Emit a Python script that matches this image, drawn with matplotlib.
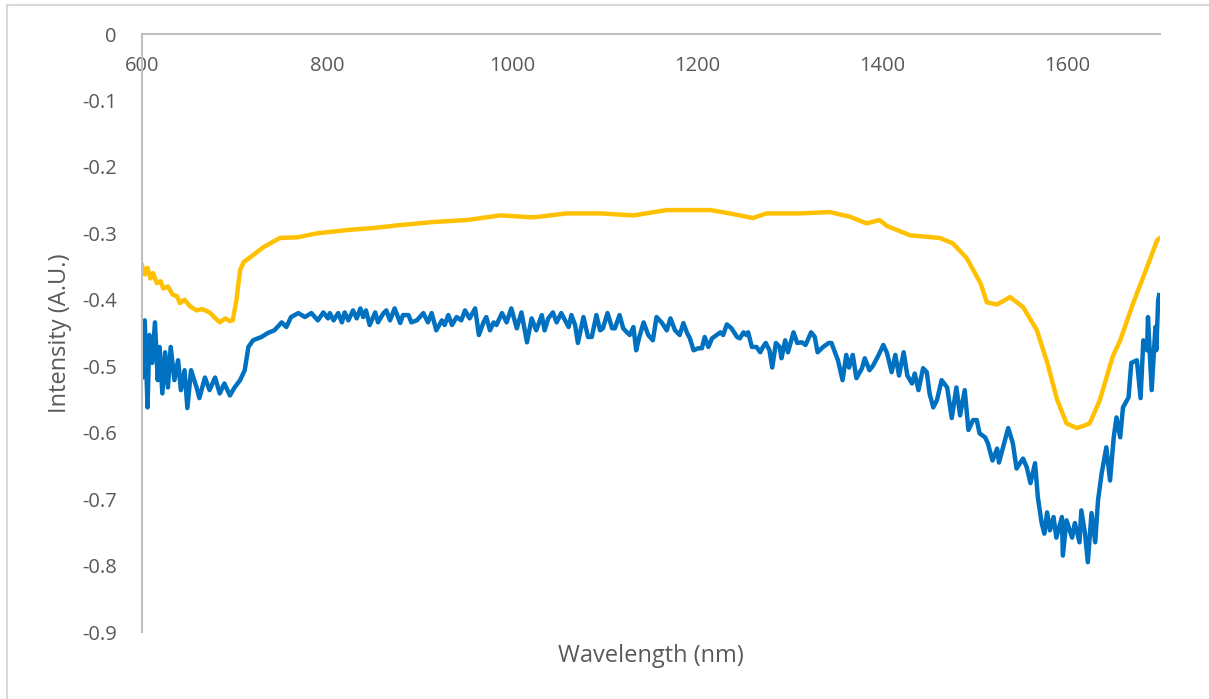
import matplotlib
matplotlib.use("Agg")
import matplotlib.pyplot as plt
from matplotlib.patches import Rectangle

plt.rcParams['font.family'] = ['Open Sans', 'DejaVu Sans']

# ---------------- data ----------------
yellow_wl = [600, 603, 606, 609, 612, 616, 620, 623, 628, 633, 638, 641, 646, 652, 659,
             665, 673, 678, 684, 690, 695, 698, 702, 706, 710, 717, 731, 749, 768, 789,
             822, 850, 876, 914, 951, 987, 1023, 1059, 1095, 1131, 1167, 1214, 1235, 1260,
             1275, 1311, 1343, 1365, 1383, 1397, 1405, 1430, 1462, 1476, 1491, 1506, 1513,
             1524, 1538, 1552, 1567, 1578, 1589, 1599, 1610, 1617, 1624, 1635, 1649, 1657,
             1671, 1686, 1697, 1700]
yellow_int = [-0.348, -0.362, -0.352, -0.368, -0.360, -0.375, -0.372, -0.383, -0.380, -0.392,
              -0.395, -0.405, -0.400, -0.410, -0.416, -0.414, -0.419, -0.426, -0.434, -0.428,
              -0.432, -0.431, -0.401, -0.355, -0.343, -0.336, -0.321, -0.307, -0.306, -0.300,
              -0.295, -0.292, -0.288, -0.283, -0.280, -0.273, -0.276, -0.270, -0.270, -0.273,
              -0.265, -0.265, -0.270, -0.277, -0.270, -0.270, -0.268, -0.275, -0.285, -0.280,
              -0.289, -0.303, -0.307, -0.315, -0.337, -0.375, -0.404, -0.407, -0.396, -0.411,
              -0.446, -0.494, -0.551, -0.586, -0.593, -0.590, -0.586, -0.551, -0.485, -0.461,
              -0.405, -0.351, -0.310, -0.307]

blue_wl = [600, 601, 603, 606, 608, 611, 614, 617, 619, 622, 625, 628, 631, 635, 639, 642,
           646, 649, 653, 659, 662, 668, 673, 679, 684, 689, 695, 700, 706, 711, 715, 720,
           729, 736, 743, 751, 756, 761, 769, 776, 783, 790, 796, 801, 803, 807, 812, 816,
           819, 823, 828, 832, 836, 839, 842, 846, 852, 855, 861, 864, 868, 873, 879, 882,
           888, 891, 897, 904, 909, 913, 918, 924, 927, 931, 935, 940, 945, 949, 954, 960,
           964, 969, 972, 976, 980, 983, 989, 994, 999, 1005, 1010, 1016, 1021, 1026, 1032,
           1035, 1039, 1044, 1048, 1053, 1061, 1064, 1068, 1071, 1077, 1082, 1086, 1091,
           1095, 1098, 1103, 1108, 1111, 1116, 1120, 1124, 1127, 1131, 1134, 1137, 1142,
           1147, 1152, 1156, 1162, 1167, 1171, 1176, 1181, 1185, 1189, 1192, 1196, 1201,
           1205, 1208, 1212, 1216, 1221, 1225, 1228, 1232, 1237, 1243, 1246, 1250, 1253,
           1255, 1259, 1264, 1268, 1271, 1274, 1278, 1281, 1285, 1289, 1291, 1295, 1298,
           1304, 1308, 1313, 1317, 1323, 1327, 1330, 1336, 1342, 1345, 1349, 1352, 1357,
           1361, 1364, 1368, 1372, 1378, 1381, 1386, 1390, 1396, 1401, 1405, 1410, 1414,
           1418, 1423, 1427, 1432, 1435, 1439, 1444, 1448, 1451, 1455, 1459, 1464, 1470,
           1475, 1480, 1484, 1489, 1493, 1498, 1502, 1505, 1511, 1514, 1519, 1524, 1526,
           1531, 1536, 1541, 1545, 1552, 1556, 1560, 1565, 1568, 1572, 1575, 1578, 1581,
           1585, 1588, 1594, 1595, 1599, 1605, 1608, 1613, 1615, 1619, 1622, 1626, 1630,
           1633, 1637, 1642, 1646, 1650, 1653, 1657, 1660, 1666, 1669, 1675, 1679, 1682,
           1686, 1687, 1691, 1695, 1696, 1698, 1699]
blue_int = [-0.461, -0.517, -0.431, -0.562, -0.453, -0.495, -0.434, -0.521, -0.471, -0.541,
            -0.479, -0.532, -0.471, -0.521, -0.491, -0.536, -0.506, -0.563, -0.506, -0.532,
            -0.548, -0.517, -0.536, -0.517, -0.541, -0.526, -0.544, -0.532, -0.521, -0.506,
            -0.471, -0.461, -0.456, -0.450, -0.446, -0.434, -0.441, -0.426, -0.420, -0.426,
            -0.420, -0.431, -0.419, -0.428, -0.420, -0.431, -0.420, -0.434, -0.419, -0.431,
            -0.416, -0.428, -0.413, -0.426, -0.416, -0.438, -0.419, -0.434, -0.420, -0.416,
            -0.431, -0.413, -0.435, -0.423, -0.423, -0.434, -0.431, -0.420, -0.434, -0.420,
            -0.446, -0.431, -0.438, -0.423, -0.438, -0.426, -0.431, -0.416, -0.428, -0.413,
            -0.453, -0.434, -0.426, -0.446, -0.434, -0.438, -0.420, -0.434, -0.413, -0.443,
            -0.419, -0.464, -0.428, -0.446, -0.423, -0.446, -0.428, -0.419, -0.434, -0.420,
            -0.441, -0.423, -0.438, -0.465, -0.426, -0.456, -0.456, -0.423, -0.446, -0.443,
            -0.420, -0.443, -0.443, -0.423, -0.443, -0.449, -0.453, -0.441, -0.476, -0.458,
            -0.434, -0.453, -0.461, -0.426, -0.435, -0.446, -0.428, -0.446, -0.453, -0.435,
            -0.450, -0.458, -0.476, -0.473, -0.473, -0.456, -0.471, -0.458, -0.453, -0.449,
            -0.453, -0.437, -0.443, -0.456, -0.458, -0.449, -0.453, -0.449, -0.471, -0.471,
            -0.479, -0.471, -0.465, -0.476, -0.502, -0.465, -0.471, -0.488, -0.461, -0.479,
            -0.449, -0.465, -0.464, -0.468, -0.449, -0.456, -0.479, -0.471, -0.465, -0.465,
            -0.480, -0.491, -0.521, -0.483, -0.502, -0.483, -0.518, -0.503, -0.488, -0.506,
            -0.499, -0.483, -0.468, -0.480, -0.509, -0.483, -0.514, -0.479, -0.514, -0.526,
            -0.511, -0.536, -0.503, -0.509, -0.541, -0.562, -0.551, -0.521, -0.532, -0.578,
            -0.532, -0.574, -0.536, -0.596, -0.581, -0.581, -0.601, -0.607, -0.616, -0.642,
            -0.624, -0.645, -0.619, -0.593, -0.616, -0.654, -0.639, -0.652, -0.676, -0.646,
            -0.697, -0.735, -0.752, -0.720, -0.747, -0.727, -0.758, -0.727, -0.785, -0.732,
            -0.758, -0.736, -0.765, -0.717, -0.752, -0.795, -0.721, -0.765, -0.702, -0.661,
            -0.622, -0.672, -0.607, -0.577, -0.607, -0.562, -0.547, -0.495, -0.491, -0.548,
            -0.461, -0.476, -0.426, -0.536, -0.441, -0.476, -0.401, -0.393]

x_ticks = [600, 800, 1000, 1200, 1400, 1600]
x_tick_labels = ["600", "800", "1000", "1200", "1400", "1600"]
y_ticks = [0, -0.1, -0.2, -0.3, -0.4, -0.5, -0.6, -0.7, -0.8, -0.9]
y_tick_labels = ["0", "-0.1", "-0.2", "-0.3", "-0.4", "-0.5", "-0.6", "-0.7", "-0.8", "-0.9"]
x_title = "Wavelength (nm)"
y_title = "Intensity (A.U.)"

# ---------------- figure ----------------
W, H = 1209, 699
fig = plt.figure(figsize=(W / 100, H / 100), dpi=100)
fig.patch.set_facecolor("white")

# outer chart border
fig.patches.append(Rectangle((7 / W, -0.02), 1.05, 1 - 5 / H + 0.02, transform=fig.transFigure,
                             fill=False, edgecolor="#d9d9d9", linewidth=1.5))

ax = fig.add_axes([142 / W, 1 - 632 / H, (1160 - 142) / W, (632 - 34) / H])
ax.plot(yellow_wl, yellow_int, color="#FFC000", linewidth=3.2, solid_joinstyle="round")
ax.plot(blue_wl, blue_int, color="#0070C0", linewidth=3.2, solid_joinstyle="round")

ax.set_xlim(600, 1700)
ax.set_ylim(-0.9, 0)
ax.set_xticks(x_ticks)
ax.set_xticklabels(x_tick_labels)
ax.set_yticks(y_ticks)
ax.set_yticklabels(y_tick_labels)

for s in ["right", "bottom"]:
    ax.spines[s].set_visible(False)
for s in ["left", "top"]:
    ax.spines[s].set_color("#bfbfbf")
    ax.spines[s].set_linewidth(1.5)

ax.tick_params(axis="x", top=True, labeltop=True, bottom=False, labelbottom=False,
               length=0, pad=-30, labelsize=14.5, labelcolor="#595959")
ax.tick_params(axis="y", length=0, pad=18, labelsize=14.5, labelcolor="#595959")

fig.text(651 / W, 1 - 656 / H, x_title, ha="center", va="center", fontsize=17, color="#595959")
fig.text(60 / W, 1 - 333 / H, y_title, ha="center", va="center", rotation=90,
         fontsize=17, color="#595959")

fig.savefig("out.png", dpi=100)
